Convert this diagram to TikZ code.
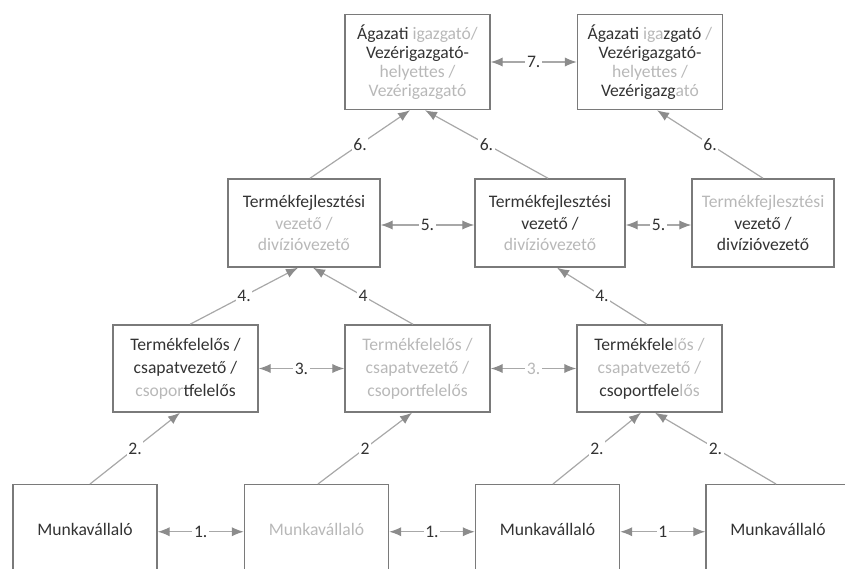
\documentclass[tikz,border=0pt]{standalone}
\usepackage{fontspec}
\setmainfont{Carlito}
\usetikzlibrary{arrows.meta}
\definecolor{boxgray}{HTML}{7A7A7A}
\definecolor{linegray}{HTML}{A8A8A8}
\definecolor{tipgray}{HTML}{8C8C8C}
\definecolor{darktext}{HTML}{333333}
\definecolor{lighttext}{HTML}{B8B8B8}
\newcommand\faded[1]{\textcolor{lighttext}{#1}}
\begin{document}
\begin{tikzpicture}[x=0.75pt,y=-0.75pt,
  box/.style={draw=boxgray,line width=1.1pt,align=center,text=darktext,inner sep=0pt},
  tbox/.style={box,minimum width=145*0.75pt,minimum height=95*0.75pt,font=\fontsize{13.2pt}{14.4pt}\selectfont},
  cbox/.style={box,minimum height=88*0.75pt,font=\fontsize{13.2pt}{16.2pt}\selectfont},
  bbox/.style={box,minimum width=145*0.75pt,minimum height=87*0.75pt,font=\fontsize{13.2pt}{17.4pt}\selectfont},
  mbox/.style={box,minimum width=144*0.75pt,anchor=north,inner ysep=0pt,text height=51*0.75pt,text depth=90*0.75pt,font=\fontsize{13.2pt}{16pt}\selectfont},
  link/.style={draw=linegray,line width=0.9pt},
  both/.style={link,{Latex[length=9pt,width=7pt,color=tipgray]}-{Latex[length=9pt,width=7pt,color=tipgray]}},
  up/.style={link,-{Latex[length=9pt,width=7pt,color=tipgray]}},
  lbl/.style={fill=white,inner sep=1.2pt,text=darktext,font=\fontsize{13.2pt}{14pt}\selectfont}]
\useasboundingbox (0,0) rectangle (845,568);
\clip (0,0) rectangle (845,568);

% top row
\node[tbox] (a1) at (417.5,62) {Ágazati \faded{igazgató/}\\Vezérigazgató-\\\faded{helyettes /}\\\faded{Vezérigazgató}};
\node[tbox] (a2) at (650,62) {Ágazati \faded{iga}zgató \faded{/}\\Vezérigazgató-\\\faded{helyettes /}\\Vezérigazg\faded{ató}};

% second row
\node[cbox,minimum width=152*0.75pt] (c1) at (304,223) {Termékfejlesztési\\\faded{vezető /}\\\faded{divízióvezető}};
\node[cbox,minimum width=150*0.75pt] (c2) at (550,223) {Termékfejlesztési\\vezető /\\\faded{divízióvezető}};
\node[cbox,minimum width=142*0.75pt] (c3) at (763,223) {\faded{Termékfejlesztési}\\vezető /\\divízióvezető};

% third row
\node[bbox] (b1) at (185.5,368.5) {Termékfelelős /\\csapatvezető /\\\faded{csopor}tfelelős};
\node[bbox] (b2) at (417.5,368.5) {\faded{Termékfelelős /}\\\faded{csapatvezető /}\\\faded{csoportfelelős}};
\node[bbox] (b3) at (649.5,368.5) {Termékfele\faded{lős /}\\\faded{csapatvezető /}\\csoportfele\faded{lős}};

% bottom row
\node[mbox] (m1) at (85,484) {Munkavállaló};
\node[mbox] (m2) at (316.5,484) {\faded{Munkavállaló}};
\node[mbox] (m3) at (547.5,484) {Munkavállaló};
\node[mbox] (m4) at (778,484) {Munkavállaló};

% horizontal links
\draw[both] (a1.east) -- node[lbl]{7.} (a2.west);
\draw[both] ([yshift=-1.5pt]c1.east) -- node[lbl]{5.} ([yshift=-1.5pt]c2.west);
\draw[both] ([yshift=-1.5pt]c2.east) -- node[lbl]{5.} ([yshift=-1.5pt]c3.west);
\draw[both] (b1.east) -- node[lbl]{3.} (b2.west);
\draw[both] (b2.east) -- node[lbl,text=lighttext]{3.} (b3.west);
\draw[both] ([yshift=3pt]m1.base east) -- node[lbl]{1.} ([yshift=3pt]m2.base west);
\draw[both] ([yshift=3pt]m2.base east) -- node[lbl]{1.} ([yshift=3pt]m3.base west);
\draw[both] ([yshift=3pt]m3.base east) -- node[lbl]{1} ([yshift=3pt]m4.base west);

% upward links
\draw[up] ([xshift=3.75pt]m1.north) -- node[lbl]{2.} ([xshift=-4.1pt]b1.south);
\draw[up] ([xshift=1.1pt]m2.north) -- node[lbl]{2} ([xshift=-4.1pt]b2.south);
\draw[up] ([xshift=4.1pt]m3.north) -- node[lbl]{2.} ([xshift=-6.4pt]b3.south);
\draw[up] ([xshift=-1.5pt]m4.north) -- node[lbl]{2.} ([xshift=4.1pt]b3.south);
\draw[up] ([xshift=3.4pt]b1.north) -- node[lbl]{4.} ([xshift=-4.5pt]c1.south);
\draw[up] ([xshift=-3.4pt]b2.north) -- node[lbl]{4} ([xshift=6.75pt]c1.south);
\draw[up] ([xshift=-1.9pt]b3.north) -- node[lbl]{4.} ([xshift=5.25pt]c2.south);
\draw[up] ([xshift=4.5pt]c1.north) -- node[lbl]{6.} ([xshift=-5.6pt]a1.south);
\draw[up] ([xshift=-1.5pt]c2.north) -- node[lbl]{6.} ([xshift=5.6pt]a1.south);
\draw[up] (c3.north) -- node[lbl]{6.} ([xshift=5.25pt]a2.south);
\end{tikzpicture}
\end{document}
